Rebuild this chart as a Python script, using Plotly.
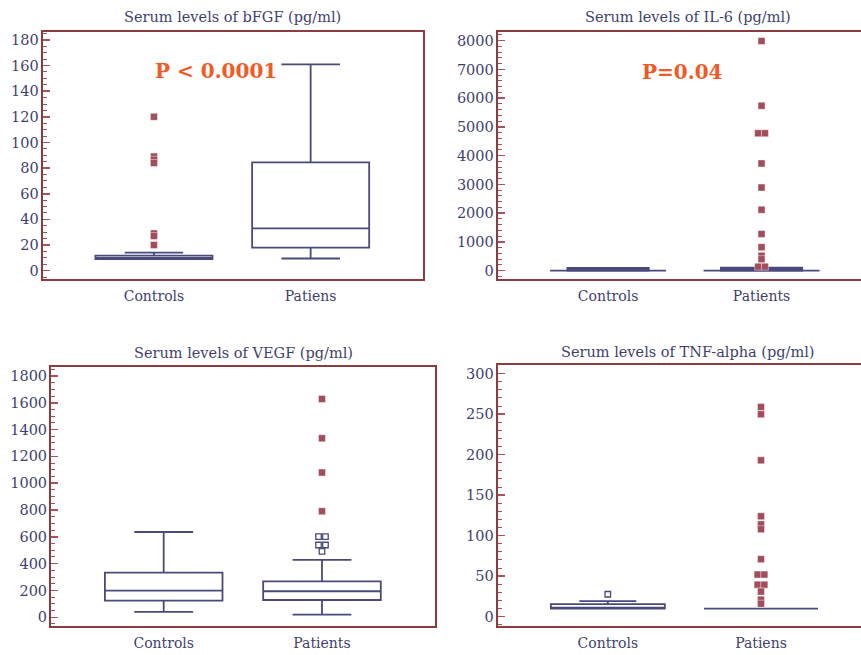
import plotly.graph_objects as go

# ---------------- data ----------------
bfgf_labels = ["Controls", "Patiens"]
bfgf_q1 = [9.0, 18.0]
bfgf_median = [10.0, 33.0]
bfgf_q3 = [11.8, 84.5]
bfgf_lower = [9.0, 9.5]
bfgf_upper = [14.0, 161.0]
bfgf_out_controls = [120, 89, 86.5, 84, 29, 27, 20]

il6_labels = ["Controls", "Patients"]
il6_q1 = [0, 0]
il6_median = [20, 30]
il6_q3 = [100, 110]
il6_fence = [0, 0]
il6_out_patients = [7990, 5740, 4780, 4780, 3730, 2890, 2120, 1280, 820, 520, 400, 140, 140]

vegf_labels = ["Controls", "Patients"]
vegf_q1 = [124, 129]
vegf_median = [199, 194]
vegf_q3 = [333, 268]
vegf_lower = [40, 20]
vegf_upper = [636, 428]
vegf_far_patients = [1628, 1335, 1079, 791]
vegf_near_patients = [601, 601, 539, 539, 492]

tnf_labels = ["Controls", "Patiens"]
tnf_q1 = [10.0, 10.0]
tnf_median = [10.0, 10.0]
tnf_q3 = [15.6, 10.0]
tnf_lower = [10.0, 10.0]
tnf_upper = [19.3, 10.0]
tnf_near_controls = [27.7]
tnf_far_patients = [259, 250, 193, 124, 114, 108, 71, 52, 52, 39.5, 39.5, 31, 21, 16]

titles = ["Serum levels of bFGF (pg/ml)", "Serum levels of IL-6 (pg/ml)",
          "Serum levels of VEGF (pg/ml)", "Serum levels of TNF-alpha (pg/ml)"]
pvalues = ["P < 0.0001", "P=0.04"]

# ---------------- style ----------------
W, H = 861, 655
FONT = "DejaVu Serif"
NAVY = "#3f3f6e"
BOXLINE = "#4a4a7a"
FRAME = "#8e3b3f"
TICK = "#a4545a"
OUT = "#a24d5b"
PCOL = "#f15a24"


def dom_x(a, b):
    return [a / W, min(b / W, 1.0)]


def dom_y(top, bottom):
    return [(H - bottom) / H, (H - top) / H]


def dodge(values, step):
    counts = {}
    for v in values:
        counts[v] = counts.get(v, 0) + 1
    seen = {}
    offs = []
    for v in values:
        k = counts[v]
        i = seen.get(v, 0)
        seen[v] = i + 1
        offs.append((i - (k - 1) / 2) * step)
    return offs


fig = go.Figure()


def add_boxes(ax, q1, med, q3, lo, hi, width, fills=("white", "white"), whiskerwidth=0.5):
    for i in range(2):
        fig.add_trace(go.Box(
            x=[i], q1=[q1[i]], median=[med[i]], q3=[q3[i]],
            lowerfence=[lo[i]], upperfence=[hi[i]],
            width=width, whiskerwidth=whiskerwidth,
            fillcolor=fills[i], line=dict(color=BOXLINE, width=1.8),
            boxpoints=False, hoverinfo="skip", showlegend=False,
            xaxis="x" + ax, yaxis="y" + ax))


def add_points(ax, cat, values, filled=True):
    offs = dodge(values, 0.044)
    fig.add_trace(go.Scatter(
        x=[cat + o for o in offs], y=values, mode="markers",
        marker=dict(symbol="square", size=7 if filled else 5.5,
                    color=OUT if filled else "white",
                    line=dict(color="rgba(255,255,255,0.7)", width=0.6) if filled
                    else dict(color=BOXLINE, width=1.3)),
        hoverinfo="skip", showlegend=False, xaxis="x" + ax, yaxis="y" + ax))


# panel 1: bFGF
add_boxes("", bfgf_q1, bfgf_median, bfgf_q3, bfgf_lower, bfgf_upper, 0.747)
add_points("", 0, bfgf_out_controls)

# panel 2: IL-6
add_boxes("2", il6_fence, il6_fence, il6_fence, il6_fence, il6_fence, 0.756)
add_boxes("2", il6_q1, il6_median, il6_q3, il6_q1, il6_q3, 0.53,
          fills=("#d4d4e4", "#4b4b7c"))
add_points("2", 1, il6_out_patients)

# panel 3: VEGF
add_boxes("3", vegf_q1, vegf_median, vegf_q3, vegf_lower, vegf_upper, 0.743)
add_points("3", 1, vegf_far_patients)
add_points("3", 1, vegf_near_patients, filled=False)

# panel 4: TNF-alpha
add_boxes("4", tnf_q1, tnf_median, tnf_q3, tnf_lower, tnf_upper, 0.744)
add_points("4", 0, tnf_near_controls, filled=False)
add_points("4", 1, tnf_far_patients)

panels = [
    dict(ax="", xd=dom_x(42.7, 423), yd=dom_y(32, 279), xr=[-0.71, 1.717], yr=[-6.5, 186.2],
         dt=20, mdt=5, labels=bfgf_labels, mirror=True, tcx=(42.7 + 423) / 2, tcy=17.3),
    dict(ax="2", xd=dom_x(497.7, 861), yd=dom_y(32, 279.3), xr=[-0.719, 1.648], yr=[-299, 8303],
         dt=1000, mdt=200, labels=il6_labels, mirror=False, tcx=(497.7 + 878) / 2, tcy=17.3),
    dict(ax="3", xd=dom_x(51, 435), yd=dom_y(366.7, 626), xr=[-0.712, 1.714], yr=[-65, 1869],
         dt=200, mdt=50, labels=vegf_labels, mirror=True, tcx=(51 + 435) / 2, tcy=352.7),
    dict(ax="4", xd=dom_x(497.7, 861), yd=dom_y(365, 626), xr=[-0.719, 1.653], yr=[-11.5, 310.7],
         dt=50, mdt=10, labels=tnf_labels, mirror=False, tcx=(497.7 + 878) / 2, tcy=351.7),
]

layout = dict(
    width=W, height=H, margin=dict(l=0, r=0, t=0, b=0),
    paper_bgcolor="white", plot_bgcolor="white",
    font=dict(family=FONT, color=NAVY, size=14),
    showlegend=False,
)
annotations = []
for p, title in zip(panels, titles):
    ax = p["ax"]
    layout["xaxis" + ax] = dict(
        domain=p["xd"], range=p["xr"], anchor="y" + ax, type="linear",
        tickvals=[0, 1], ticktext=p["labels"], ticks="", showgrid=False, zeroline=False,
        showline=True, mirror=True, linecolor=FRAME, linewidth=2,
        tickfont=dict(family=FONT, size=14, color=NAVY), ticklabelstandoff=3)
    layout["yaxis" + ax] = dict(
        domain=p["yd"], range=p["yr"], anchor="x" + ax, dtick=p["dt"], tick0=0,
        ticks="inside", ticklen=7, tickwidth=1.5, tickcolor=TICK,
        minor=dict(dtick=p["mdt"], tick0=0, ticks="inside", ticklen=4, tickwidth=1, tickcolor=TICK),
        showgrid=False, zeroline=False, showline=True, mirror=p["mirror"],
        linecolor=FRAME, linewidth=2,
        tickfont=dict(family=FONT, size=14.5, color=NAVY), ticklabelstandoff=-1)
    annotations.append(dict(
        text=title, xref="paper", yref="paper", x=p["tcx"] / W, y=(H - p["tcy"]) / H,
        xanchor="center", yanchor="middle", showarrow=False,
        font=dict(family=FONT, size=14.5, color=NAVY)))

annotations.append(dict(text=pvalues[0], xref="x", yref="y", x=0.396, y=156, showarrow=False,
                        font=dict(family=FONT, size=20, color=PCOL, weight="bold")))
annotations.append(dict(text=pvalues[1], xref="x2", yref="y2", x=0.488, y=6922, showarrow=False,
                        font=dict(family=FONT, size=20, color=PCOL, weight="bold")))
layout["annotations"] = annotations
fig.update_layout(**layout)

fig.write_html("out.html", config={"displayModeBar": False, "staticPlot": True},
               post_script="document.body.style.margin='0';")
